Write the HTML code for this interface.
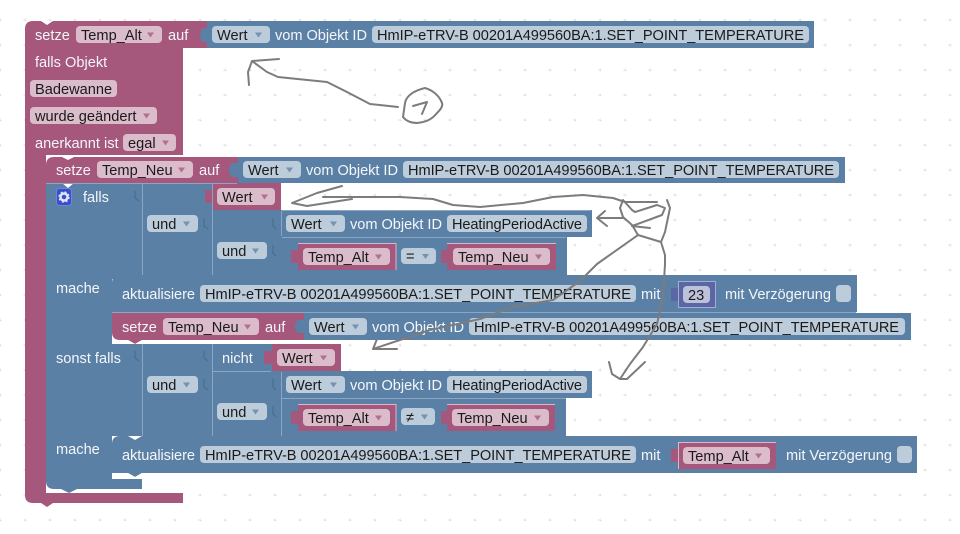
<!DOCTYPE html>
<html lang="de"><head><meta charset="utf-8"><title>Blockly</title>
<style>
html,body{margin:0;padding:0;background:#fff;width:960px;height:534px;overflow:hidden}
svg{display:block}
text{font-family:"Liberation Sans",Arial,sans-serif;font-size:14.6px}
.w{fill:#f4f6f9}.k{fill:#1a1a1a}
.fp{fill:#dbbccb}.fb{fill:#bdccdb}.fv{fill:#bdc2db}
.p{fill:#a5577c}.b{fill:#5b80a5}.v{fill:#5b67a5}
.ap{fill:#a5577c;fill-opacity:.75}.ab{fill:#5b80a5;fill-opacity:.75}
.l{stroke:#8ba6c2;stroke-width:1;fill:none}
.t{stroke:#466a8e;stroke-width:1;fill:none}
.h{stroke:#7c7c7c;stroke-width:2;fill:none;stroke-linecap:round;stroke-linejoin:round}
</style></head><body>
<svg width="960" height="534" viewBox="0 0 960 534" xmlns="http://www.w3.org/2000/svg">
<defs>
<pattern id="g" x="0" y="20" width="25" height="25" patternUnits="userSpaceOnUse">
<path d="M-1.500 0H1.500M0 -1.500V1.500M23.500 0H25M0 23.500V25M23.500 25H25" stroke="#d4d4d4" stroke-width="1" fill="none"/>
</pattern>
</defs>
<rect width="960" height="534" fill="#fff"/>
<rect width="960" height="534" fill="url(#g)"/>

<!-- outer pink -->
<path class="p" d="M33 21H41L47 25L53 21H207V48H183V155H46V493H183V503H53L47 507L41 503H33Q25 503 25 495V29Q25 21 33 21Z"/>
<path d="M46 483H142V493H46Z" fill="#fff"/>
<!-- top blue -->
<rect class="b" x="207" y="21" width="607" height="27"/>

<!-- setze Temp_Neu -->
<path class="p" d="M54 157H62L68 160L74 157H238V183H46V165Q46 157 54 157Z"/>
<rect class="b" x="238" y="157" width="607" height="26"/>

<!-- if block -->
<path class="b" d="M46 183H62L68 188L74 183H142V279H112V479H142V489H77L69 493L61 489H54Q46 489 46 481Z"/>
<path class="b" d="M142 183H212V210H282V275H142Z"/>
<rect class="b" x="282" y="210" width="310" height="27"/>
<rect class="b" x="282" y="237" width="285" height="38"/>
<rect class="p" x="212" y="183" width="69" height="27"/>
<path class="p" d="M212 190H205V203H212Z"/>

<!-- aktualisiere 1 -->
<path class="b" d="M120 275H128L135 279L142 275H857V312H112V283Q112 275 120 275Z"/>
<!-- setze Temp_Neu 2 -->
<path class="p" d="M112 313H304V340H142L135 344L128 340H120Q112 340 112 332Z"/>
<rect class="b" x="304" y="313" width="607" height="27"/>
<path d="M113 340H128L135 344L142 340V344H119Q113 344 113 340Z" fill="#fff"/>

<!-- sonst falls -->
<rect class="b" x="112" y="344" width="30" height="92"/>
<rect class="b" x="142" y="344" width="130" height="27"/>
<rect class="b" x="142" y="371" width="140" height="65"/>
<rect class="p" x="272" y="344" width="69" height="27"/>
<rect class="b" x="282" y="371" width="310" height="27"/>
<rect class="b" x="282" y="398" width="284" height="38"/>

<!-- aktualisiere 2 -->
<path class="b" d="M120 436H128L135 440L142 436H917V473H142L135 477L128 473H112V444Q112 436 120 436Z"/>
<path d="M113 473H128L135 477L142 473V479H119Q113 479 113 473Z" fill="#fff"/>

<!-- separators -->
<path class="l" d="M142.500 184V275M212.500 184V275M281.500 211V236M282 237.500H566M282 210.500H591M142.500 344V436M212.500 344V436M281.500 372V436M212 371.500H271M282 398.500H566M46 183.500H237M112 312.500H856"/>

<!-- puzzle tab hints -->
<path d="M203 28h4v14h-4q-3-3-3-7t3-7Z" fill="#5b80a5"/>
<path d="M232 163h6v14h-6q-3-3-3-7t3-7Z" fill="#5b80a5"/>
<path d="M298 320h6v13h-6q-3-3-3-6.500t3-6.500Z" fill="#5b80a5"/>
<path class="t" d="M135 191V198L139 201M204 218V226L208 229M273 218V226L276 229M273 245V253L276 256M135 351V358L139 361M204 351V358L208 361M204 379V387L208 390M273 379V387L276 390M273 406V414L276 417"/>

<!-- comparison blocks -->
<rect class="p" x="298" y="243" width="98" height="27"/>
<path class="p" d="M298 250H291V263H298Z"/>
<rect class="p" x="447" y="243" width="109" height="27"/>
<path class="p" d="M447 250H441V263H447Z"/>
<rect class="p" x="298" y="404" width="98" height="27"/>
<path class="p" d="M298 411H291V424H298Z"/>
<rect class="p" x="447" y="404" width="108" height="27"/>
<path class="p" d="M447 411H441V424H447Z"/>
<path class="p" d="M272 351H264V364H272Z"/>
<path d="M298 243.500H396V270M298 404.500H396V431M447 243.500H556M447 404.500H555" stroke="#d8b9c9" fill="none"/>

<!-- number / var block -->
<rect class="v" x="678" y="281" width="38" height="27"/>
<path class="v" d="M678 288H671V301H678Z"/>
<rect x="678.500" y="281.500" width="37" height="26" fill="none" stroke="#a3acd6"/>
<rect class="p" x="678" y="442" width="98" height="27"/>
<path class="p" d="M678 449H671V462H678Z"/>
<path d="M678.500 469V442.500H776" stroke="#d8b9c9" fill="none"/>

<!-- fields -->
<rect class="fp" x="76" y="26" width="86" height="17" rx="4"/>
<path class="ap" d="M147 32.500h7l-3.500 5z"/>
<rect class="fb" x="212" y="26" width="58" height="17" rx="4"/>
<path class="ab" d="M255 32.500h7l-3.500 5z"/>
<rect class="fb" x="372" y="26" width="437" height="17" rx="4"/>
<text class="w" x="35" y="40">setze</text>
<text class="k" x="81" y="40">Temp_Alt</text>
<text class="w" x="168" y="40">auf</text>
<text class="k" x="217" y="40">Wert</text>
<text class="w" x="275" y="40" textLength="92">vom Objekt ID</text>
<text class="k" x="377" y="40" textLength="427">HmIP-eTRV-B 00201A499560BA:1.SET_POINT_TEMPERATURE</text>

<text class="w" x="35" y="67">falls Objekt</text>
<rect class="fp" x="30" y="80" width="87" height="17" rx="4"/>
<text class="k" x="35" y="94">Badewanne</text>
<rect class="fp" x="30" y="107" width="127" height="17" rx="4"/>
<text class="k" x="35" y="121">wurde geändert</text>
<path class="ap" d="M143 113.500h7l-3.500 5z"/>
<text class="w" x="35" y="148">anerkannt ist</text>
<rect class="fp" x="123" y="134" width="53" height="17" rx="4"/>
<text class="k" x="128" y="148">egal</text>
<path class="ap" d="M162 140.500h7l-3.500 5z"/>

<text class="w" x="56" y="175">setze</text>
<rect class="fp" x="97" y="161" width="96" height="17" rx="4"/>
<text class="k" x="102" y="175">Temp_Neu</text>
<path class="ap" d="M178 167.500h7l-3.500 5z"/>
<text class="w" x="199" y="175">auf</text>
<rect class="fb" x="243" y="161" width="58" height="17" rx="4"/>
<text class="k" x="248" y="175">Wert</text>
<path class="ab" d="M286 167.500h7l-3.500 5z"/>
<text class="w" x="306" y="175" textLength="92">vom Objekt ID</text>
<rect class="fb" x="403" y="161" width="436" height="17" rx="4"/>
<text class="k" x="408" y="175" textLength="426">HmIP-eTRV-B 00201A499560BA:1.SET_POINT_TEMPERATURE</text>

<!-- gear -->
<rect x="56.500" y="188.500" width="15" height="17" rx="3" fill="#3b4fc4" stroke="#6f82ea"/>
<circle cx="64" cy="197" r="3.500" fill="none" stroke="#dfe6fb" stroke-width="2.400"/>
<circle cx="64" cy="197" r="5" fill="none" stroke="#dfe6fb" stroke-width="1.400" stroke-dasharray="2 2"/>
<text class="w" x="83" y="202">falls</text>

<rect class="fp" x="217" y="188" width="58" height="17" rx="4"/>
<text class="k" x="222" y="202">Wert</text>
<path class="ap" d="M261 194.500h7l-3.500 5z"/>

<rect class="fb" x="147" y="215" width="51" height="17" rx="4"/>
<text class="k" x="152" y="229">und</text>
<path class="ab" d="M183 221.500h7l-3.500 5z"/>
<rect class="fb" x="286" y="215" width="59" height="17" rx="4"/>
<text class="k" x="291" y="229">Wert</text>
<path class="ab" d="M330 221.500h7l-3.500 5z"/>
<text class="w" x="350" y="229" textLength="92">vom Objekt ID</text>
<rect class="fb" x="447" y="215" width="140" height="17" rx="4"/>
<text class="k" x="452" y="229" textLength="130">HeatingPeriodActive</text>

<rect class="fb" x="217" y="242" width="50" height="17" rx="4"/>
<text class="k" x="222" y="256">und</text>
<path class="ab" d="M252 248.500h7l-3.500 5z"/>
<rect class="fp" x="303" y="248" width="87" height="17" rx="4"/>
<text class="k" x="308" y="262">Temp_Alt</text>
<path class="ap" d="M375 254.500h7l-3.500 5z"/>
<rect class="fb" x="401" y="248" width="35" height="16" rx="4"/>
<text class="k" x="406" y="261">=</text>
<path class="ab" d="M422 254h7l-3.500 5z"/>
<rect class="fp" x="453" y="248" width="97" height="17" rx="4"/>
<text class="k" x="458" y="262">Temp_Neu</text>
<path class="ap" d="M535 254.500h7l-3.500 5z"/>

<text class="w" x="56" y="293">mache</text>
<text class="w" x="122" y="299" textLength="73">aktualisiere</text>
<rect class="fb" x="200" y="285" width="436" height="17" rx="4"/>
<text class="k" x="205" y="299" textLength="426">HmIP-eTRV-B 00201A499560BA:1.SET_POINT_TEMPERATURE</text>
<text class="w" x="641" y="299">mit</text>
<rect class="fv" x="683" y="286" width="27" height="17" rx="4"/>
<text class="k" x="688" y="300">23</text>
<text class="w" x="725" y="299" textLength="106">mit Verzögerung</text>
<rect class="fb" x="836" y="285" width="15" height="17" rx="4"/>

<text class="w" x="122" y="332">setze</text>
<rect class="fp" x="163" y="318" width="96" height="17" rx="4"/>
<text class="k" x="168" y="332">Temp_Neu</text>
<path class="ap" d="M244 324.500h7l-3.500 5z"/>
<text class="w" x="265" y="332">auf</text>
<rect class="fb" x="309" y="318" width="58" height="17" rx="4"/>
<text class="k" x="314" y="332">Wert</text>
<path class="ab" d="M352 324.500h7l-3.500 5z"/>
<text class="w" x="372" y="332" textLength="92">vom Objekt ID</text>
<rect class="fb" x="469" y="318" width="436" height="17" rx="4"/>
<text class="k" x="474" y="332" textLength="425">HmIP-eTRV-B 00201A499560BA:1.SET_POINT_TEMPERATURE</text>

<text class="w" x="56" y="363">sonst falls</text>
<text class="w" x="222" y="363">nicht</text>
<rect class="fp" x="277" y="349" width="58" height="17" rx="4"/>
<text class="k" x="282" y="363">Wert</text>
<path class="ap" d="M320 355.500h7l-3.500 5z"/>

<rect class="fb" x="147" y="376" width="51" height="17" rx="4"/>
<text class="k" x="152" y="390">und</text>
<path class="ab" d="M183 382.500h7l-3.500 5z"/>
<rect class="fb" x="286" y="376" width="59" height="17" rx="4"/>
<text class="k" x="291" y="390">Wert</text>
<path class="ab" d="M330 382.500h7l-3.500 5z"/>
<text class="w" x="350" y="390" textLength="92">vom Objekt ID</text>
<rect class="fb" x="447" y="376" width="140" height="17" rx="4"/>
<text class="k" x="452" y="390" textLength="130">HeatingPeriodActive</text>

<rect class="fb" x="217" y="403" width="50" height="17" rx="4"/>
<text class="k" x="222" y="417">und</text>
<path class="ab" d="M252 409.500h7l-3.500 5z"/>
<rect class="fp" x="303" y="409" width="87" height="17" rx="4"/>
<text class="k" x="308" y="423">Temp_Alt</text>
<path class="ap" d="M375 415.500h7l-3.500 5z"/>
<rect class="fb" x="401" y="408" width="34" height="17" rx="4"/>
<text class="k" x="406" y="422">≠</text>
<path class="ab" d="M421 414.500h7l-3.500 5z"/>
<rect class="fp" x="452" y="409" width="97" height="17" rx="4"/>
<text class="k" x="457" y="423">Temp_Neu</text>
<path class="ap" d="M534 415.500h7l-3.500 5z"/>

<text class="w" x="56" y="454">mache</text>
<text class="w" x="122" y="460" textLength="73">aktualisiere</text>
<rect class="fb" x="200" y="446" width="436" height="17" rx="4"/>
<text class="k" x="205" y="460" textLength="426">HmIP-eTRV-B 00201A499560BA:1.SET_POINT_TEMPERATURE</text>
<text class="w" x="641" y="460">mit</text>
<rect class="fp" x="683" y="447" width="87" height="17" rx="4"/>
<text class="k" x="688" y="461">Temp_Alt</text>
<path class="ap" d="M755 453.500h7l-3.500 5z"/>
<text class="w" x="786" y="460" textLength="106">mit Verzögerung</text>
<rect class="fb" x="897" y="446" width="15" height="17" rx="4"/>

<!-- handwriting -->
<path class="h" d="M249 85L248 72L252 61L279 59M252 61L267 72L278 77L327 82L347 92L370 104L398 107"/>
<path class="h" d="M425 88C412 91 406 97 405 103L403 117C407 122 412 123 417 123C428 122 433 118 437 113C441 109 443 106 442 103C439 95 432 90 425 88M413 106L427 102L422 114"/>
<path class="h" d="M342 186L317 193L292 203L307 206L352 199M323 197L400 197L433 199L453 205L480 207L523 203L553 197L583 195L613 198L625 202L657 202"/>
<path class="h" d="M623 200L620 208L623 217L632 225L638 235L661 242M623 200L632 210L635 212L657 205L665 208L662 215L632 226L650 228M667 200L670 208L665 232L661 242"/>
<path class="h" d="M605 211L597 218L607 226M597 218L623 218"/>
<path class="h" d="M661 242L665 255L665 264L663 297L657 324L643 347L630 364L620 379M609 362L612 374L620 379L627 379L645 362"/>
<path class="h" d="M638 235L597 264L580 281L553 300L513 307L480 319L430 330L373 349H397M373 349L377 339"/>
</svg>
</body></html>
